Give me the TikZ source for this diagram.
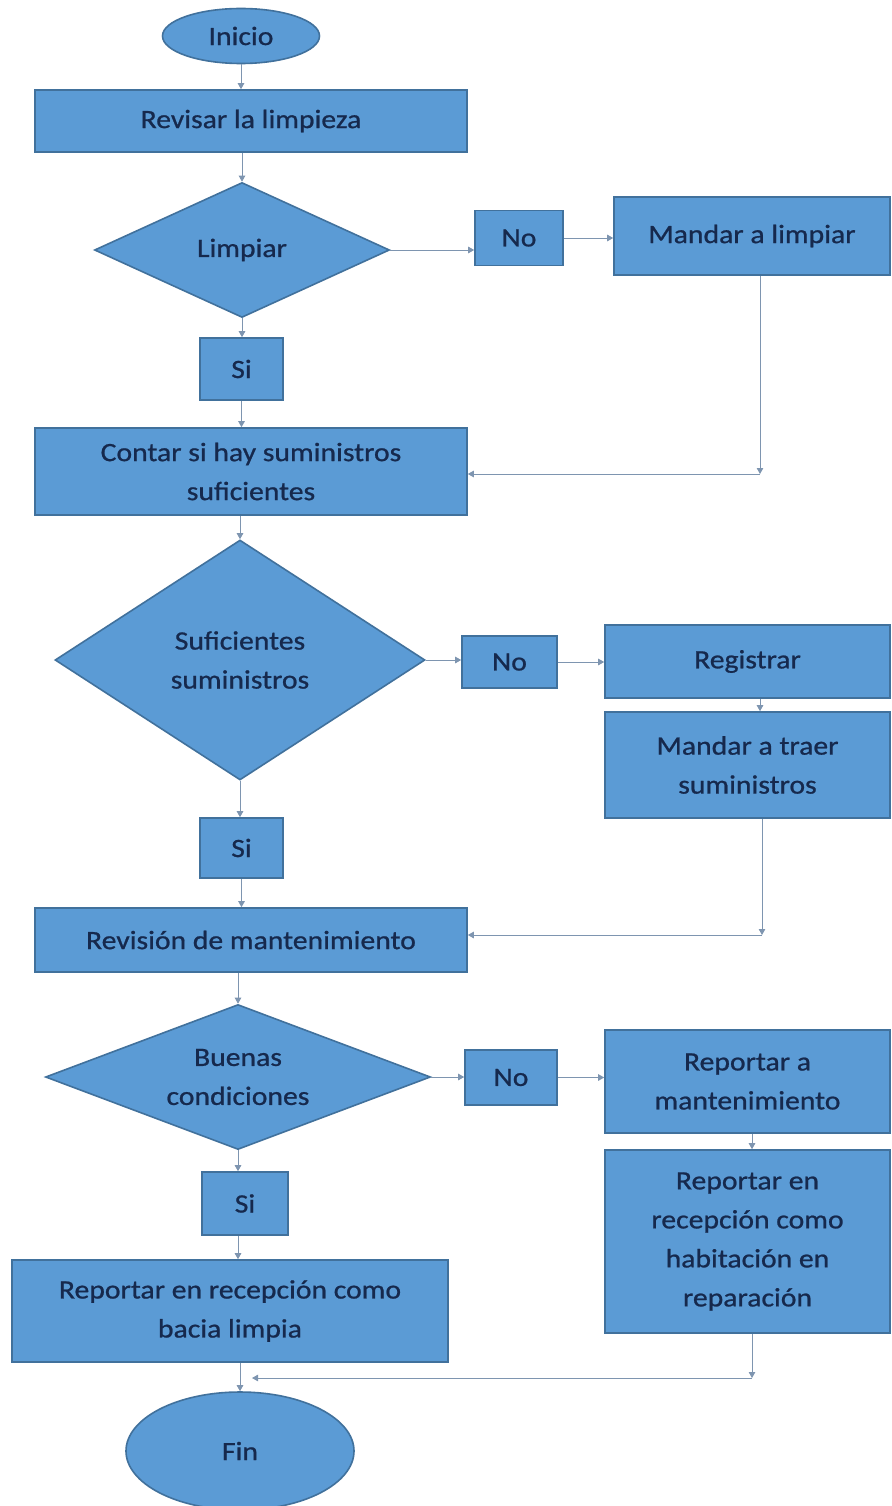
\documentclass[tikz,border=0pt]{standalone}
\usepackage{fontspec}
\setmainfont[FakeStretch=1.12,FakeBold=0.8]{Carlito}
\usetikzlibrary{shapes.geometric,arrows.meta}
\definecolor{boxfill}{HTML}{5B9BD5}
\definecolor{boxline}{HTML}{41719C}
\definecolor{txt}{HTML}{16294D}
\definecolor{conn}{HTML}{7E95B0}
\tikzset{
  base/.style={fill=boxfill, draw=boxline, line width=1.6pt, text=txt, inner sep=0pt,
    font=\fontsize{26.5}{39}\selectfont, align=center},
  procbox/.style={base, rectangle},
  decbox/.style={base, diamond},
  termbox/.style={base, ellipse},
  arr/.style={draw=conn, line width=0.9pt, -{Triangle[length=6pt,width=6.5pt]}},
  plain/.style={draw=conn, line width=0.9pt}
}
\begin{document}
\begin{tikzpicture}[x=1pt,y=-1pt]
\useasboundingbox (0,0) rectangle (891,1506);
\fill[white] (0,0) rectangle (891,1506);

\node[termbox, minimum width=157, minimum height=55] (inicio) at (241,36) {Inicio};
\node[procbox, minimum width=432, minimum height=62] (revisar) at (251,121) {Revisar la limpieza};
\node[decbox, aspect=2.18, minimum width=295, minimum height=135] (limpiar) at (242,250) {Limpiar};
\node[procbox, minimum width=88, minimum height=55] (no1) at (519,238) {No};
\node[procbox, minimum width=276, minimum height=78] (mandar) at (752,236) {Mandar a limpiar};
\node[procbox, minimum width=83, minimum height=62] (si1) at (241.5,369) {Si};
\node[procbox, minimum width=432, minimum height=87] (contar) at (251,471.5) {Contar si hay suministros\\suficientes};

\node[decbox, aspect=1.54, minimum width=370, minimum height=240] (sufic) at (240,660) {Suficientes\\suministros};
\node[procbox, minimum width=95, minimum height=52] (no2) at (509.5,662) {No};
\node[procbox, minimum width=285, minimum height=73] (registrar) at (747.5,661.5) {Registrar};
\node[procbox, minimum width=285, minimum height=106] (traer) at (747.5,765) {Mandar a traer\\suministros};
\node[procbox, minimum width=83, minimum height=60] (si2) at (241.5,848) {Si};
\node[procbox, minimum width=432, minimum height=64] (revision) at (251,940) {Revisión de mantenimiento};

\node[decbox, aspect=2.65, minimum width=385, minimum height=145] (buenas) at (238,1077) {Buenas\\condiciones};
\node[procbox, minimum width=92, minimum height=55] (no3) at (511,1077.5) {No};
\node[procbox, minimum width=285, minimum height=103] (repmant) at (747.5,1081.5) {Reportar a\\mantenimiento};
\node[procbox, minimum width=285, minimum height=183] (reprec) at (747.5,1241.5) {Reportar en\\recepción como\\habitación en\\reparación};
\node[procbox, minimum width=86, minimum height=63] (si3) at (245,1203.5) {Si};
\node[procbox, minimum width=436, minimum height=102] (bacia) at (230,1311) {Reportar en recepción como\\bacia limpia};
\node[termbox, minimum width=228, minimum height=118] (fin) at (240,1451) {Fin};

% main column
\draw[arr] (inicio.south) -- (inicio.south |- revisar.north);
\draw[arr] (limpiar.north |- revisar.south) -- (limpiar.north);
\draw[arr] (limpiar.east) -- (no1.west |- limpiar.east);
\draw[arr] (no1.east) -- (mandar.west |- no1.east);
\draw[arr] (limpiar.south) -- (limpiar.south |- si1.north);
\draw[arr] (si1.south) -- (si1.south |- contar.north);
\coordinate (c1) at (760,474);
\draw[arr] (mandar.south -| c1) -- (c1);
\draw[arr] (c1) -- (contar.east |- c1);

\draw[arr] (sufic.north |- contar.south) -- (sufic.north);
\draw[arr] (sufic.east) -- (no2.west |- sufic.east);
\draw[arr] (no2.east) -- (registrar.west |- no2.east);
\draw[arr] ([xshift=12.5pt]registrar.south) -- ([xshift=12.5pt]traer.north);
\draw[arr] (sufic.south) -- (sufic.south |- si2.north);
\draw[arr] (si2.south) -- (si2.south |- revision.north);
\coordinate (c2) at (762,935);
\draw[arr] (traer.south -| c2) -- (c2);
\draw[arr] (c2) -- (revision.east |- c2);

\draw[arr] (buenas.north |- revision.south) -- (buenas.north);
\draw[arr] (buenas.east) -- (no3.west |- buenas.east);
\draw[arr] (no3.east) -- (repmant.west |- no3.east);
\draw[arr] ([xshift=4.5pt]repmant.south) -- ([xshift=4.5pt]reprec.north);
\draw[arr] (buenas.south) -- (buenas.south |- si3.north);
\draw[arr] (si3.south -| buenas.south) -- (buenas.south |- bacia.north);

\coordinate (c3) at (752,1378);
\coordinate (j) at (252,1378);
\draw[arr] (reprec.south -| c3) -- (c3);
\draw[arr] (c3) -- (j);
\draw[arr] (fin.north |- bacia.south) -- (fin.north);
\end{tikzpicture}
\end{document}
